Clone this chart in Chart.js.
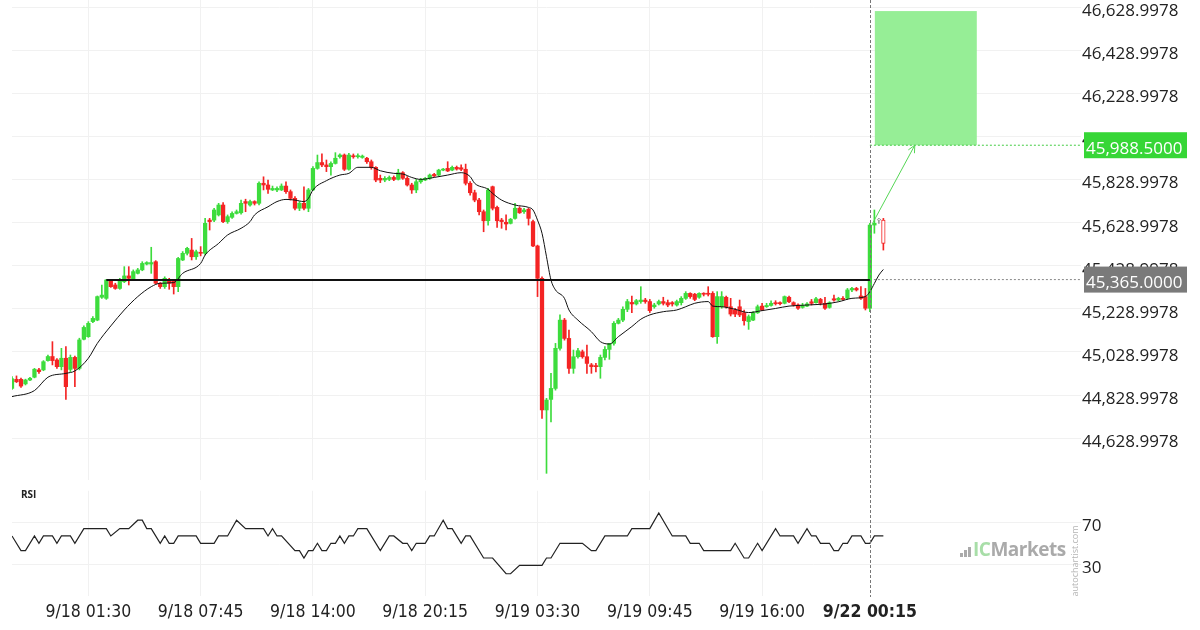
<!DOCTYPE html>
<html>
<head>
<meta charset="utf-8">
<title>US30 15m breakout</title>
<script src="https://cdn.jsdelivr.net/npm/chart.js@4.4.1/dist/chart.umd.min.js"></script>
<style>
  html, body { margin: 0; padding: 0; background: #fff; }
  body { width: 1200px; height: 630px; position: relative; overflow: hidden; font-family: 'Open Sans', sans-serif; }
  canvas { position: absolute; left: 0; }
  #price { top: 0; }
  #rsi { top: 480px; }
  .rsi-title { position: absolute; left: 21px; top: 488px; font-weight: bold; font-size: 10px; line-height: 12px; color: #222; }
  .logo { position: absolute; left: 973px; top: 538px; height: 22px; white-space: nowrap; font-weight: bold; font-size: 19px; line-height: 22px; letter-spacing: -0.5px; color: #aaa; }
  .logo .ic { color: #a8dea8; }
  .bar { position: absolute; width: 2.5px; background: #aaa; }
  .vert { position: absolute; left: 1039px; top: 556px; width: 70px; height: 11px; line-height: 11px; font-size: 9px; color: #b5b5b5; text-align: center; transform: rotate(-90deg); }
</style>
</head>
<body>
<canvas id="price" width="1200" height="480"></canvas>
<canvas id="rsi" width="1200" height="150"></canvas>
<div class="rsi-title">RSI</div>
<div class="bar" style="left:960px;top:553px;height:4px"></div>
<div class="bar" style="left:964px;top:550px;height:7px"></div>
<div class="bar" style="left:968px;top:547px;height:10px"></div>
<div class="logo"><span class="ic">IC</span>Markets</div>
<div class="vert">autochartist.com</div>
<script>
// x axis labels (candle index -> time)
var labelIdx = [17, 42, 67, 92, 117, 142, 167, 191];
var labelText = ['9/18 01:30', '9/18 07:45', '9/18 14:00', '9/18 20:15', '9/19 03:30', '9/19 09:45', '9/19 16:00', '9/22 00:15'];

// price axis ticks
var priceTicks = [44628.9978, 44828.9978, 45028.9978, 45228.9978, 45428.9978, 45628.9978,
                  45828.9978, 46028.9978, 46228.9978, 46428.9978, 46628.9978];
var rsiTicks = [30, 70];

// 15 minute candles
var open = [44860,44902,44902,44881,44899,44912,44946,44946,44989,45008,
  44992,44961,45000,44948,45004,44953,45088,45100,45170,45177,
  45283,45278,45360,45340,45324,45355,45382,45366,45394,45410,
  45437,45437,45448,45348,45332,45358,45360,45332,45456,45487,
  45502,45471,45491,45487,45641,45641,45665,45711,45634,45654,
  45672,45675,45727,45711,45727,45719,45812,45804,45781,45781,
  45781,45799,45773,45742,45696,45719,45696,45781,45881,45908,
  45897,45889,45904,45935,45943,45877,45938,45935,45932,45928,
  45912,45886,45835,45827,45830,45839,45830,45861,45835,45804,
  45781,45819,45827,45835,45853,45850,45873,45881,45873,45886,
  45884,45877,45812,45768,45734,45680,45638,45796,45700,45641,
  45631,45626,45649,45696,45680,45691,45634,45521,45371,44760,
  44809,44860,45046,45177,45092,44953,45007,45030,45007,44969,
  44965,44961,45004,45041,45069,45162,45177,45227,45259,45252,
  45263,45270,45263,45239,45252,45263,45258,45258,45247,45258,
  45278,45301,45297,45283,45301,45301,45301,45100,45239,45283,
  45239,45224,45239,45211,45170,45177,45211,45242,45239,45245,
  45258,45258,45255,45283,45258,45247,45236,45242,45262,45258,
  45273,45255,45236,45276,45270,45278,45278,45317,45324,45289,
  45286,45232,45618,45641,45641];
var high = [44915,44918,44908,44903,44912,44953,44953,44989,45015,45077,
  44998,45046,45054,45015,45010,45093,45150,45170,45193,45289,
  45340,45366,45366,45348,45371,45425,45425,45410,45417,45448,
  45448,45515,45453,45351,45378,45371,45366,45468,45495,45515,
  45556,45502,45518,45649,45649,45696,45719,45722,45665,45680,
  45688,45734,45738,45734,45731,45819,45842,45827,45799,45796,
  45809,45819,45781,45750,45727,45796,45788,45889,45943,45948,
  45920,45912,45954,45948,45948,45951,45948,45948,45943,45932,
  45920,45889,45850,45843,45846,45846,45877,45866,45843,45812,
  45830,45835,45839,45855,45858,45877,45881,45912,45892,45892,
  45897,45901,45820,45780,45742,45688,45788,45799,45706,45649,
  45665,45649,45719,45703,45696,45696,45641,45525,45378,44814,
  44930,45069,45201,45185,45131,45038,45046,45038,45061,44976,
  44976,45015,45054,45069,45170,45185,45239,45273,45289,45273,
  45332,45278,45273,45255,45270,45283,45270,45263,45270,45286,
  45309,45304,45301,45304,45304,45332,45309,45309,45309,45289,
  45278,45232,45270,45224,45201,45216,45247,45255,45255,45267,
  45267,45262,45289,45289,45262,45252,45255,45258,45273,45283,
  45278,45283,45262,45293,45283,45286,45324,45329,45329,45332,
  45324,45626,45688,45649,45649];
var low = [44855,44887,44865,44876,44896,44909,44930,44942,44986,44969,
  44953,44946,44809,44938,44868,44946,45085,45097,45165,45174,
  45278,45273,45329,45320,45320,45351,45340,45363,45391,45406,
  45433,45394,45345,45324,45324,45320,45298,45309,45453,45479,
  45456,45459,45475,45479,45595,45634,45660,45629,45626,45649,
  45669,45669,45680,45706,45711,45711,45781,45765,45778,45773,
  45778,45765,45734,45688,45685,45688,45680,45778,45877,45889,
  45866,45850,45901,45928,45871,45873,45928,45928,45928,45904,
  45877,45819,45815,45819,45824,45824,45827,45830,45799,45765,
  45768,45812,45824,45830,45843,45846,45870,45866,45870,45873,
  45870,45804,45757,45726,45665,45587,45618,45688,45607,45603,
  45595,45623,45645,45672,45672,45618,45518,45286,44721,44466,
  44705,44852,45038,45084,44930,44930,45000,45000,44930,44930,
  44937,44907,44992,44995,45061,45159,45170,45216,45212,45247,
  45255,45255,45212,45232,45247,45247,45239,45242,45242,45247,
  45273,45278,45267,45278,45289,45289,45097,45069,45232,45232,
  45196,45193,45193,45154,45134,45174,45208,45221,45236,45242,
  45247,45247,45252,45258,45242,45227,45232,45239,45247,45255,
  45247,45227,45232,45265,45265,45270,45273,45309,45312,45273,
  45224,45216,45580,45626,45502];
var close = [44905,44891,44871,44899,44907,44949,44938,44984,45008,44989,
  44961,45000,44868,45004,44953,45085,45143,45162,45185,45286,
  45293,45363,45332,45324,45363,45382,45371,45402,45410,45440,
  45444,45444,45348,45332,45371,45348,45332,45463,45487,45510,
  45471,45494,45487,45626,45634,45688,45711,45634,45657,45672,
  45680,45719,45719,45727,45719,45812,45804,45784,45788,45788,
  45799,45773,45742,45696,45719,45696,45781,45881,45908,45897,
  45889,45904,45928,45943,45877,45943,45935,45940,45938,45912,
  45886,45827,45827,45835,45839,45830,45861,45835,45804,45781,
  45819,45830,45835,45850,45846,45873,45877,45869,45886,45878,
  45877,45812,45768,45734,45680,45638,45781,45696,45638,45634,
  45623,45645,45696,45675,45688,45649,45521,45371,44760,44806,
  44860,45046,45177,45092,44953,45007,45035,45007,44976,44961,
  44961,45004,45041,45069,45162,45177,45227,45263,45252,45267,
  45270,45263,45221,45247,45263,45255,45247,45252,45263,45278,
  45301,45286,45273,45301,45297,45297,45100,45286,45286,45239,
  45205,45205,45201,45174,45193,45211,45239,45224,45245,45255,
  45253,45253,45286,45262,45247,45232,45245,45252,45255,45276,
  45255,45232,45258,45270,45278,45273,45317,45324,45317,45278,
  45232,45618,45626,45645,45533];
var hollowIdx = [193, 194];   // still-forming candles, drawn open

// moving average, read at sample candles
var maIdx = [0,5,8,12,14,17,19,22,25,28, 31,33,36,38,42,43,46,48,51,53,
  54,57,59,61,63,65,66,67,70,73, 75,77,80,82,85,87,89,91,94,97,
  100,102,103,106,107,109,112,115,116,117, 118,119,120,121,123,124,126,129,131,133,
  135,138,140,142,145,148,150,152,155,156, 158,161,164,167,170,173,177,181,184,187,
  190,191,192,193,194];
var maVal = [44822,44850,44912,44930,44941,45000,45069,45150,45224,45286,
  45332,45348,45351,45394,45440,45479,45533,45572,45603,45634,
  45665,45703,45727,45737,45734,45727,45742,45781,45824,45850,
  45858,45886,45886,45870,45858,45855,45839,45830,45839,45850,
  45861,45843,45812,45784,45765,45734,45711,45700,45688,45641,
  45580,45471,45363,45317,45278,45224,45177,45123,45077,45066,
  45100,45147,45181,45201,45216,45224,45239,45255,45263,45242,
  45239,45227,45212,45221,45231,45242,45247,45252,45262,45278,
  45286,45309,45347,45386,45412];

// RSI turning points
var rsiIdx = [0,2,3,5,6,7,9,10,11,13, 14,16,21,22,24,26,28,29,30,31,
  33,34,35,36,37,41,42,45,46,48, 50,52,56,57,58,59,60,63,64,65,
  66,67,68,69,70,71,72,73,74,75, 76,77,79,82,84,85,87,88,89,90,
  92,93,94,96,97,98,100,101,102,105, 107,110,111,113,118,119,120,122,127,129,
  130,132,137,138,142,144,147,150,151,153, 154,160,161,163,164,166,167,170,171,174,
  175,177,178,179,180,182,183,184,185,186, 187,189,190,191,192,194];
var rsiVal = [57,43,43,57,50,57,57,50,57,57, 50,64,64,57,64,64,72,72,64,64,
  50,57,50,50,57,57,50,50,57,57, 72,64,64,57,64,57,57,43,43,36,
  43,43,50,43,43,50,50,57,50,57, 57,64,64,43,57,57,50,50,43,50,
  50,57,57,72,64,64,50,57,57,36, 36,21,21,29,29,36,36,50,50,43,
  43,57,57,64,64,79,57,57,50,50, 43,43,50,36,36,50,43,64,57,57,
  50,64,57,57,50,50,43,43,50,50, 57,57,50,50,57,57];

// pattern levels
var supportLevel = 45363, supportFrom = 21, supportTo = 191;
var entryLevel = 45365, targetLevel = 45988.5, zoneTop = 46611;
var zoneFrom = 192.1, zoneTo = 214.8;
var nowIdx = 191;
var arrowFrom = [191.6, 45626], arrowTo = [201, 45988.5];

var UP = '#3ddc3d', DOWN = '#f42424', ZONE = '#96ee96', GRID = '#f1f1f1';
var X_MAX = 238;
var NARROW = "'Liberation Sans Narrow', 'DejaVu Sans Condensed', 'Roboto Condensed', sans-serif";

function fmt(v) {
  return v.toLocaleString('en-US', {minimumFractionDigits: 4, maximumFractionDigits: 4});
}

var candleColor = open.map(function(o, i) { return close[i] >= o ? UP : DOWN; });
var bodyFill = candleColor.map(function(c, i) { return hollowIdx.indexOf(i) >= 0 ? '#fff' : c; });
var bodyBorder = candleColor.map(function(c, i) { return i === 193 ? '#9a9a9a' : c; });
var bodyBorderW = candleColor.map(function(c, i) { return hollowIdx.indexOf(i) >= 0 ? 1 : 0; });

var bodies = open.map(function(o, i) { return {x: i, y: [o, close[i]]}; });
var wicks = open.map(function(o, i) { return {x: i, y: [low[i], high[i]]}; });
var maPts = maIdx.map(function(x, k) { return {x: x, y: maVal[k]}; });
var rsiPts = rsiIdx.map(function(x, k) { return {x: x, y: rsiVal[k]}; });

// zone, arrow head, price tags
var overlay = {
  id: 'overlay',
  beforeDatasetsDraw: function(chart) {
    var ctx = chart.ctx, x = chart.scales.x, y = chart.scales.y;
    ctx.save();
    ctx.fillStyle = ZONE;
    var x0 = x.getPixelForValue(zoneFrom), x1 = x.getPixelForValue(zoneTo);
    var y0 = y.getPixelForValue(zoneTop), y1 = y.getPixelForValue(targetLevel);
    ctx.fillRect(x0, y0, x1 - x0, y1 - y0);
    ctx.restore();
  },
  afterDatasetsDraw: function(chart) {
    var ctx = chart.ctx, x = chart.scales.x, y = chart.scales.y;
    var ax = x.getPixelForValue(arrowTo[0]), ay = y.getPixelForValue(arrowTo[1]);
    var bx = x.getPixelForValue(arrowFrom[0]), by = y.getPixelForValue(arrowFrom[1]);
    var ang = Math.atan2(ay - by, ax - bx);
    ctx.save();
    ctx.strokeStyle = '#55d655';
    ctx.lineWidth = 1;
    ctx.beginPath();
    ctx.moveTo(ax - 8 * Math.cos(ang - 0.45), ay - 8 * Math.sin(ang - 0.45));
    ctx.lineTo(ax, ay);
    ctx.lineTo(ax - 8 * Math.cos(ang + 0.45), ay - 8 * Math.sin(ang + 0.45));
    ctx.stroke();
    ctx.restore();
  },
  afterDraw: function(chart) {
    tag(chart, targetLevel, '#36d636');
    tag(chart, entryLevel, '#7a7a7a');
  }
};

function tag(chart, value, bg) {
  var ctx = chart.ctx, right = chart.chartArea.right;
  var yy = chart.scales.y.getPixelForValue(value);
  ctx.save();
  ctx.fillStyle = bg;
  ctx.fillRect(right + 3, yy - 13, 103, 26);
  ctx.fillStyle = '#fff';
  ctx.font = "17px 'Open Sans'";
  ctx.textBaseline = 'middle';
  ctx.fillText(fmt(value), right + 5, yy + 4);
  ctx.restore();
}

// dashed line at the current candle, on both panels
var nowLine = {
  id: 'nowLine',
  afterDatasetsDraw: function(chart, args, opts) {
    var ctx = chart.ctx;
    var px = Math.round(chart.scales.x.getPixelForValue(nowIdx)) + 0.5;
    ctx.save();
    ctx.strokeStyle = '#777';
    ctx.lineWidth = 1;
    ctx.setLineDash([3, 2]);
    ctx.beginPath();
    ctx.moveTo(px, 0);
    ctx.lineTo(px, opts.bottom);
    ctx.stroke();
    ctx.restore();
  }
};

function noPad(s) { s.paddingTop = 0; s.paddingBottom = 0; s.paddingLeft = 0; s.paddingRight = 0; }

new Chart(document.getElementById('price'), {
  type: 'bar',
  data: {
    datasets: [
      {type: 'line', data: [{x: supportFrom, y: supportLevel}, {x: supportTo, y: supportLevel}],
        borderColor: '#111', borderWidth: 2, pointRadius: 0, order: 0},
      {type: 'line', data: [{x: arrowFrom[0], y: arrowFrom[1]}, {x: arrowTo[0], y: arrowTo[1]}],
        borderColor: '#55d655', borderWidth: 1, pointRadius: 0, order: 1},
      {type: 'line', data: maPts, borderColor: '#111', borderWidth: 1, pointRadius: 0,
        cubicInterpolationMode: 'monotone', order: 2},
      {data: bodies, backgroundColor: bodyFill, borderColor: bodyBorder, borderWidth: bodyBorderW,
        borderSkipped: false, barThickness: 3.6, minBarLength: 1, grouped: false, order: 3},
      {data: wicks, backgroundColor: bodyBorder, barThickness: 1, grouped: false, order: 4},
      {type: 'line', data: [{x: nowIdx, y: targetLevel}, {x: X_MAX, y: targetLevel}],
        borderColor: '#44cc44', borderWidth: 1, borderDash: [2, 2], pointRadius: 0, order: 5},
      {type: 'line', data: [{x: nowIdx, y: entryLevel}, {x: X_MAX, y: entryLevel}],
        borderColor: '#888', borderWidth: 1, borderDash: [2, 2], pointRadius: 0, order: 5}
    ]
  },
  options: {
    responsive: false,
    animation: false,
    layout: {padding: {left: 12, top: 0, right: 0, bottom: 0}},
    plugins: {legend: {display: false}, tooltip: {enabled: false}, nowLine: {bottom: 480}},
    scales: {
      x: {
        type: 'linear', min: 0, max: X_MAX, offset: false,
        grid: {offset: false, color: function(c) { return c.tick && c.tick.value === nowIdx ? 'rgba(0,0,0,0)' : GRID; }, drawTicks: false},
        border: {display: false},
        ticks: {display: false},
        afterBuildTicks: function(s) { s.ticks = labelIdx.map(function(v) { return {value: v}; }); },
        afterFit: function(s) { s.height = 0; noPad(s); }
      },
      y: {
        position: 'right', min: 44435, max: 46662.4,
        grid: {color: GRID, drawTicks: false},
        border: {display: false},
        ticks: {color: '#222', font: {family: 'Open Sans', size: 17}, padding: 1, labelOffset: 4,
          autoSkip: false, callback: function(v) { return fmt(v); }},
        afterBuildTicks: function(s) { s.ticks = priceTicks.map(function(v) { return {value: v}; }); },
        afterFit: function(s) { s.width = 119; noPad(s); }
      }
    }
  },
  plugins: [overlay, nowLine]
});

new Chart(document.getElementById('rsi'), {
  type: 'line',
  data: {
    datasets: [
      {data: rsiPts, borderColor: '#222', borderWidth: 1.2, pointRadius: 0, tension: 0}
    ]
  },
  options: {
    responsive: false,
    animation: false,
    layout: {padding: {left: 12, top: 10.8, right: 0, bottom: 0}},
    plugins: {legend: {display: false}, tooltip: {enabled: false}, nowLine: {bottom: 117}},
    scales: {
      x: {
        type: 'linear', min: 0, max: X_MAX, offset: false,
        grid: {color: function(c) { return c.tick && c.tick.value === nowIdx ? 'rgba(0,0,0,0)' : GRID; }, drawTicks: false},
        border: {display: false},
        ticks: {
          color: '#222', padding: 6, autoSkip: false, maxRotation: 0, minRotation: 0,
          font: function(c) { return {family: NARROW, size: 17.5, weight: c.index === labelIdx.length - 1 ? 'bold' : 'normal'}; },
          callback: function(v) { return labelText[labelIdx.indexOf(v)]; }
        },
        afterBuildTicks: function(s) { s.ticks = labelIdx.map(function(v) { return {value: v}; }); },
        afterFit: function(s) { s.height = 34.2; noPad(s); }
      },
      y: {
        position: 'right', min: 0, max: 100,
        grid: {color: GRID, drawTicks: false},
        border: {display: false},
        ticks: {color: '#222', font: {family: 'Open Sans', size: 17}, padding: 1, labelOffset: 4,
          autoSkip: false, callback: function(v) { return String(v); }},
        afterBuildTicks: function(s) { s.ticks = rsiTicks.map(function(v) { return {value: v}; }); },
        afterFit: function(s) { s.width = 119; noPad(s); }
      }
    }
  },
  plugins: [nowLine]
});
</script>
</body>
</html>
